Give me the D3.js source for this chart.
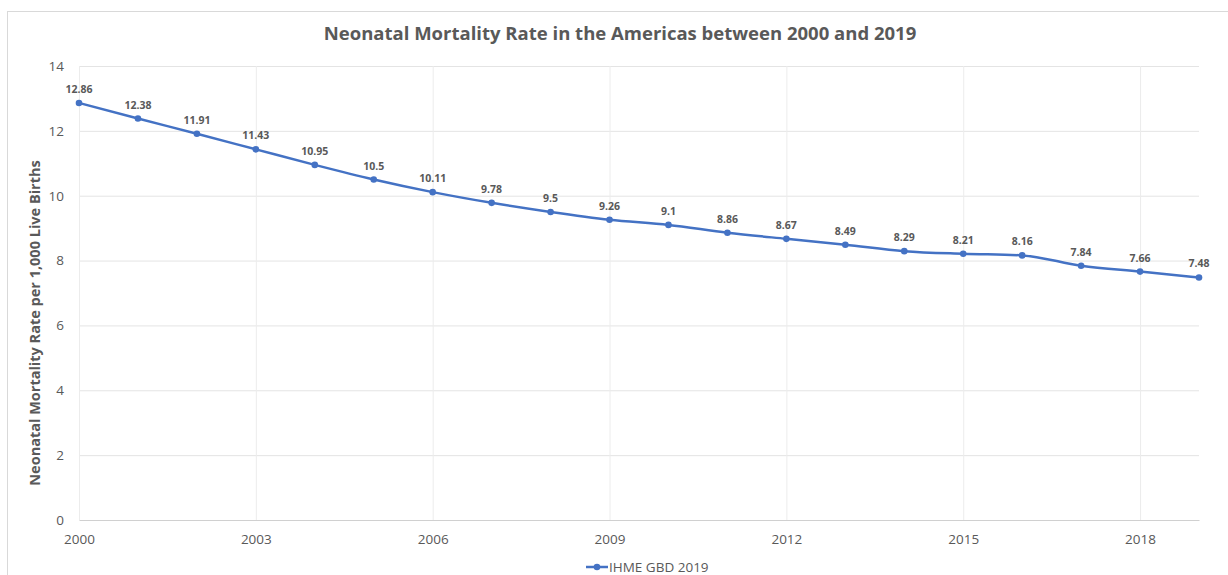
<!DOCTYPE html>
<html>
<head>
<meta charset="utf-8">
<script src="https://cdn.jsdelivr.net/npm/d3@7"></script>
<style>
  html, body { margin: 0; padding: 0; background: #fff; }
  svg { display: block; }
  text { font-family: "Open Sans", "Liberation Sans", sans-serif; }
</style>
</head>
<body>
<svg id="chart" width="1228" height="575"></svg>
<script>
// Neonatal mortality rate per 1,000 live births, the Americas (IHME GBD 2019)
const years = [2000, 2001, 2002, 2003, 2004, 2005, 2006, 2007, 2008, 2009,
               2010, 2011, 2012, 2013, 2014, 2015, 2016, 2017, 2018, 2019];
const rates = [12.86, 12.38, 11.91, 11.43, 10.95, 10.5, 10.11, 9.78, 9.5, 9.26,
               9.1, 8.86, 8.67, 8.49, 8.29, 8.21, 8.16, 7.84, 7.66, 7.48];
const xTicks = [2000, 2003, 2006, 2009, 2012, 2015, 2018];
const yTicks = [0, 2, 4, 6, 8, 10, 12, 14];
const seriesName = "IHME GBD 2019";
const titleText = "Neonatal Mortality Rate in the Americas between 2000 and 2019";
const yTitle = "Neonatal Mortality Rate per 1,000 Live Births";

const svg = d3.select("#chart");
const W = 1228, H = 575;
const plotL = 79, plotR = 1199, plotT = 66, plotB = 520;
const blue = "#4472C4", grey = "#595959";

// Chart frame
svg.append("rect")
  .attr("x", 7.5).attr("y", 11.5)
  .attr("width", W + 10).attr("height", H + 10)
  .attr("fill", "#fff").attr("stroke", "#d9d9d9");

const x = d3.scaleLinear().domain([2000, 2019]).range([plotL, plotR]);
const y = d3.scaleLinear().domain([0, 14]).range([plotB, plotT]);

// Horizontal gridlines
svg.append("g")
  .attr("transform", `translate(${plotL},0)`)
  .call(d3.axisLeft(y).tickValues(yTicks.filter(v => v > 0)).tickSize(-(plotR - plotL)).tickFormat(""))
  .call(g => g.select(".domain").remove())
  .call(g => g.selectAll("line").attr("stroke", "#e4e4e4").attr("stroke-width", 1));

// Vertical gridlines
svg.append("g")
  .attr("transform", `translate(0,${plotT})`)
  .call(d3.axisTop(x).tickValues(xTicks).tickSize(-(plotB - plotT)).tickFormat(""))
  .call(g => g.select(".domain").remove())
  .call(g => g.selectAll("line").attr("stroke", "#ececec").attr("stroke-width", 1));

// X axis
svg.append("g")
  .attr("transform", `translate(0,${plotB})`)
  .call(d3.axisBottom(x).tickValues(xTicks).tickFormat(d3.format("d")).tickSize(0).tickPadding(14))
  .call(g => g.select(".domain").attr("stroke", "#d0d0d0").attr("stroke-width", 1.2))
  .call(g => g.selectAll("text").attr("fill", grey).attr("font-size", 13.5));

// Y axis labels
svg.append("g")
  .attr("transform", `translate(${plotL},0)`)
  .call(d3.axisLeft(y).tickValues(yTicks).tickSize(0).tickPadding(15))
  .call(g => g.select(".domain").remove())
  .call(g => g.selectAll("text").attr("fill", grey).attr("font-size", 13.5));

// Title
svg.append("text")
  .attr("x", 620).attr("y", 40)
  .attr("text-anchor", "middle")
  .attr("font-size", 18.5).attr("font-weight", "bold").attr("fill", grey)
  .text(titleText);

// Y axis title
svg.append("text")
  .attr("transform", `translate(40,${(plotT + plotB) / 2 + 30}) rotate(-90)`)
  .attr("text-anchor", "middle")
  .attr("font-size", 14.5).attr("font-weight", "bold").attr("fill", grey)
  .text(yTitle);

const data = years.map((yr, i) => ({ yr, v: rates[i] }));

// Series line
svg.append("path")
  .datum(data)
  .attr("fill", "none").attr("stroke", blue).attr("stroke-width", 2.5)
  .attr("d", d3.line().x(d => x(d.yr)).y(d => y(d.v)).curve(d3.curveMonotoneX));

// Markers
svg.append("g").selectAll("circle")
  .data(data).join("circle")
  .attr("cx", d => x(d.yr)).attr("cy", d => y(d.v))
  .attr("r", 3.3).attr("fill", blue);

// Data labels
svg.append("g").selectAll("text")
  .data(data).join("text")
  .attr("x", d => x(d.yr)).attr("y", d => y(d.v) - 10)
  .attr("text-anchor", "middle")
  .attr("font-size", 10.5).attr("font-weight", "bold").attr("fill", grey)
  .text(d => String(d.v));

// Legend
const lg = svg.append("g").attr("transform", "translate(586,567)");
lg.append("line").attr("x1", 0).attr("x2", 22).attr("y1", 0).attr("y2", 0)
  .attr("stroke", blue).attr("stroke-width", 2.5);
lg.append("circle").attr("cx", 11).attr("cy", 0).attr("r", 3.3).attr("fill", blue);
lg.append("text").attr("x", 23).attr("y", 5)
  .attr("font-size", 13.5).attr("fill", grey).text(seriesName);
</script>
</body>
</html>
